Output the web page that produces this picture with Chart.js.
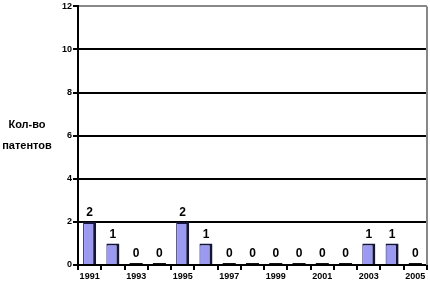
<!DOCTYPE html>
<html><head><meta charset="utf-8">
<script src="https://cdn.jsdelivr.net/npm/chart.js@4/dist/chart.umd.min.js"></script>
<style>
html,body{margin:0;padding:0;background:#fff;}
#wrap{position:relative;width:430px;height:284px;}
#ylab{position:absolute;left:0;top:114px;width:54px;text-align:center;font:bold 11px "Liberation Sans",Arial,sans-serif;line-height:21px;color:#000;}
</style></head>
<body>
<div id="wrap"><canvas id="c" width="430" height="284"></canvas>
<div id="ylab">Кол-во<br>патентов</div></div>
<script>
const years = ["1991","1992","1993","1994","1995","1996","1997","1998","1999","2000","2001","2002","2003","2004","2005"];
const patents = [2,1,0,0,2,1,0,0,0,0,0,0,1,1,0];
const yTicks = [0,2,4,6,8,10,12];

const extras = {
  id:'extras',
  afterDatasetsDraw(chart){
    const ctx = chart.ctx, ca = chart.chartArea;
    ctx.save();
    ctx.strokeStyle = '#888'; ctx.lineWidth = 2;
    ctx.beginPath(); ctx.moveTo(ca.right, ca.top); ctx.lineTo(ca.right, ca.bottom); ctx.stroke();
    const meta = chart.getDatasetMeta(0);
    ctx.fillStyle = '#000';
    ctx.font = 'bold 12px "Liberation Sans", Arial, sans-serif';
    ctx.textAlign = 'center'; ctx.textBaseline = 'bottom';
    meta.data.forEach((el,i)=>{
      ctx.fillText(String(patents[i]), el.x, el.y - 3);
    });
    ctx.restore();
  }
};

new Chart(document.getElementById('c'), {
  type:'bar',
  data:{labels:years, datasets:[{
    data:patents,
    backgroundColor:(c)=> patents[c.dataIndex]===0 ? '#111' : '#9a9af2',
    borderColor:'#14143c',
    borderWidth:(c)=> patents[c.dataIndex]===0 ? 0 : {left:1,right:3,top:2,bottom:0},
    borderSkipped:false,
    minBarLength:2,
    categoryPercentage:1,
    barPercentage:0.56
  }]},
  plugins:[extras],
  options:{
    responsive:false, animation:false,
    layout:{padding:{top:3,right:3,left:0,bottom:0}},
    plugins:{legend:{display:false},tooltip:{enabled:false}},
    scales:{
      x:{
        afterFit(s){ s.height = 19; },
        grid:{offset:true, drawOnChartArea:false, drawTicks:true, tickLength:5, tickColor:'#000', lineWidth:2},
        border:{color:'#000', width:2},
        ticks:{autoSkip:false, maxRotation:0, padding:1, color:'#000',
          font:{family:'"Liberation Sans", Arial, sans-serif', size:9, weight:'bold'},
          callback:(v,i)=> i%2===0 ? years[i] : ''}
      },
      y:{
        min:0, max:12,
        afterFit(s){ s.width = 78; },
        afterBuildTicks(s){ s.ticks = yTicks.map(v=>({value:v})); },
        grid:{color:(c)=> c.tick && c.tick.value===12 ? '#888' : '#000', lineWidth:2, drawTicks:true, tickLength:5, tickColor:'#000'},
        border:{color:'#000', width:2},
        ticks:{padding:1, color:'#000',
          font:{family:'"Liberation Sans", Arial, sans-serif', size:9, weight:'bold'}}
      }
    }
  }
});
</script>
</body></html>
